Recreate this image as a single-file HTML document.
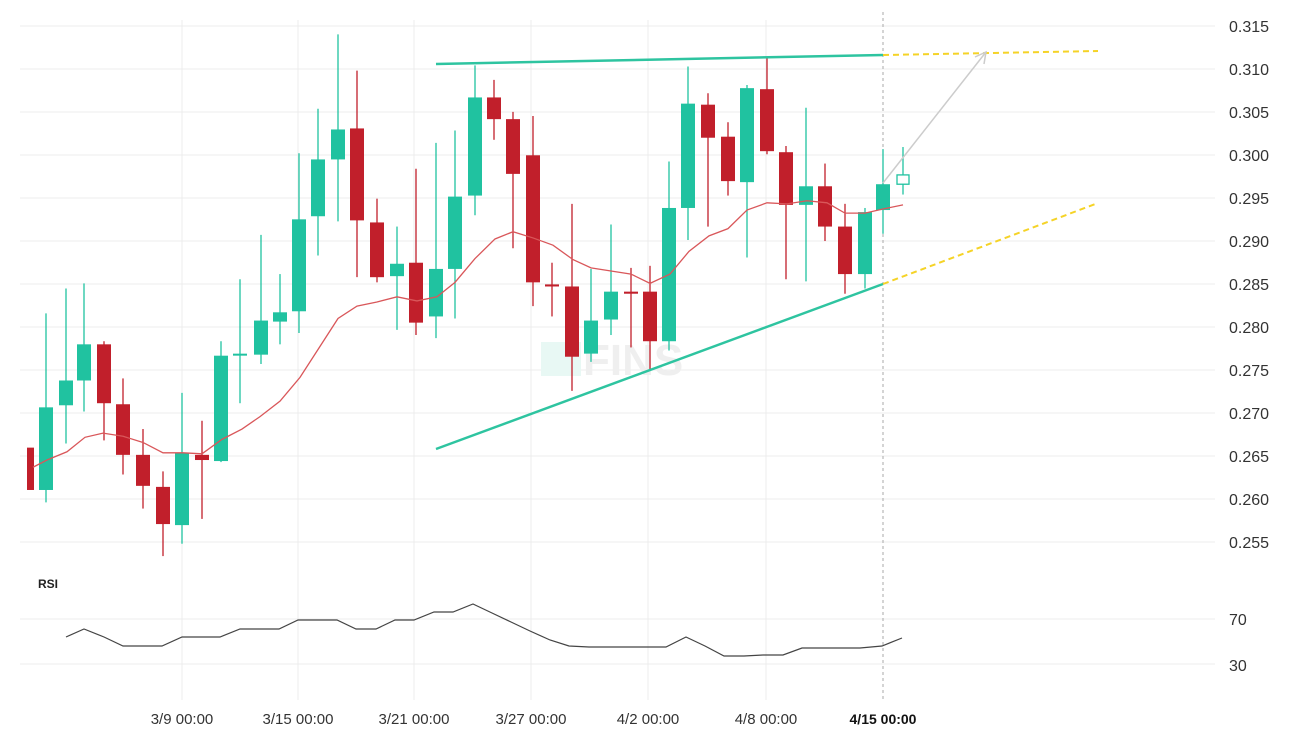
<!DOCTYPE html>
<html><head><meta charset="utf-8"><style>
html,body{margin:0;padding:0;background:#fff;}
svg{display:block;font-family:"Liberation Sans",sans-serif;}
</style></head><body>
<svg id="s" width="1310" height="752" xmlns="http://www.w3.org/2000/svg">
<g stroke="#ececec" stroke-width="1">
<line x1="20" y1="26" x2="1215" y2="26"/><line x1="20" y1="69" x2="1215" y2="69"/><line x1="20" y1="112" x2="1215" y2="112"/><line x1="20" y1="155" x2="1215" y2="155"/><line x1="20" y1="198" x2="1215" y2="198"/><line x1="20" y1="241" x2="1215" y2="241"/><line x1="20" y1="284" x2="1215" y2="284"/><line x1="20" y1="327" x2="1215" y2="327"/><line x1="20" y1="370" x2="1215" y2="370"/><line x1="20" y1="413" x2="1215" y2="413"/><line x1="20" y1="456" x2="1215" y2="456"/><line x1="20" y1="499" x2="1215" y2="499"/><line x1="20" y1="542" x2="1215" y2="542"/>
<line x1="20" y1="619" x2="1215" y2="619"/><line x1="20" y1="664" x2="1215" y2="664"/>
<line x1="182" y1="20" x2="182" y2="700"/><line x1="298" y1="20" x2="298" y2="700"/><line x1="414" y1="20" x2="414" y2="700"/><line x1="531" y1="20" x2="531" y2="700"/><line x1="648" y1="20" x2="648" y2="700"/><line x1="766" y1="20" x2="766" y2="700"/>
</g>
<line x1="883" y1="12" x2="883" y2="700" stroke="#aaa" stroke-dasharray="3,3"/>
<rect x="541" y="342" width="40" height="34" fill="#e8f8f4"/>
<text x="583" y="375" font-size="44" font-weight="bold" fill="#efefef">FINS</text>
<g id="c"></g>
<line x1="436" y1="64" x2="883" y2="55" stroke="#2ec4a0" stroke-width="2.5"/>
<line x1="436" y1="449" x2="883" y2="284" stroke="#2ec4a0" stroke-width="2.5"/>
<line x1="883" y1="55" x2="1098" y2="51" stroke="#f5d327" stroke-width="2" stroke-dasharray="6,4"/>
<line x1="883" y1="284" x2="1098" y2="203" stroke="#f5d327" stroke-width="2" stroke-dasharray="6,4"/>
<line x1="883" y1="183" x2="986" y2="52" stroke="#ccc" stroke-width="1.5"/>
<polyline points="975,57 986,52 984,64" fill="none" stroke="#ccc" stroke-width="1.5"/>
<polyline fill="none" stroke="#444" stroke-width="1.2" points="66,637 84,629 104,637 123,646 162,646 182,637 220,637 240,629 279,629 298,620 337,620 356,629 376,629 395,620 414,620 434,612 453,612 473,604 492,613 511,622 530,631 550,640 569,646 589,647 666,647 686,637 705,646 724,656 744,656 763,655 783,655 802,648 860,648 882,646 902,638"/>
<g font-size="16" fill="#333">
<text x="1229" y="32">0.315</text><text x="1229" y="75">0.310</text><text x="1229" y="118">0.305</text><text x="1229" y="161">0.300</text><text x="1229" y="204">0.295</text><text x="1229" y="247">0.290</text><text x="1229" y="290">0.285</text><text x="1229" y="333">0.280</text><text x="1229" y="376">0.275</text><text x="1229" y="419">0.270</text><text x="1229" y="462">0.265</text><text x="1229" y="505">0.260</text><text x="1229" y="548">0.255</text>
<text x="1229" y="625">70</text><text x="1229" y="671">30</text>
</g>
<text x="38" y="588" font-size="12" font-weight="bold" fill="#222">RSI</text>
<g font-size="15" fill="#333" text-anchor="middle">
<text x="182" y="724">3/9 00:00</text><text x="298" y="724">3/15 00:00</text><text x="414" y="724">3/21 00:00</text><text x="531" y="724">3/27 00:00</text><text x="648" y="724">4/2 00:00</text><text x="766" y="724">4/8 00:00</text>
<text x="883" y="724" font-weight="bold" fill="#111" font-size="14">4/15 00:00</text>
</g>
</svg>
<script>
var C=[[30,null,null,433,474,'r'],[46,303,486,394,474,'g'],[66,279,429,368,392,'g'],[84,274,398,333,368,'g'],[104,330,426,333,390,'r'],[123,366,459,391,440,'r'],[143,415,492,440,470,'r'],[163,456,538,471,507,'r'],[182,380,526,438,508,'g'],[202,407,502,440,445,'r'],[221,330,447,344,446,'g'],[240,270,390,343,344,'g'],[261,227,352,310,343,'g'],[280,265,333,302,311,'g'],[299,148,322,212,301,'g'],[318,105,247,154,209,'g'],[338,33,214,125,154,'g'],[357,68,268,124,213,'r'],[377,192,273,215,268,'r'],[397,219,319,255,267,'g'],[416,163,324,254,312,'r'],[436,138,327,260,306,'g'],[455,126,308,190,260,'g'],[475,63,208,94,189,'g'],[494,77,135,94,115,'r'],[513,108,240,115,168,'r'],[533,112,296,150,273,'r'],[552,254,306,275,277,'r'],[572,197,378,277,345,'r'],[591,260,350,310,342,'g'],[611,217,324,282,309,'g'],[631,259,336,282,284,'r'],[650,257,358,282,330,'r'],[669,156,339,201,330,'g'],[688,64,232,100,201,'g'],[708,90,219,101,133,'r'],[728,118,189,132,175,'r'],[747,82,249,85,176,'g'],[767,56,149,86,146,'r'],[786,141,270,147,198,'r'],[806,104,272,180,198,'g'],[825,158,233,180,219,'r'],[845,197,284,219,265,'r'],[865,201,279,205,265,'g'],[883,144,226,178,203,'g']];
function Y(v){return 21+(v-20)*1.033;}
var h='';
var ma=[[33,452],[47,445],[67,437],[85,423],[103,419],[123,422],[143,428],[163,438],[183,438],[202,439],[222,425],[242,415],[260,403],[280,388],[300,365],[318,338],[338,308],[357,296],[377,292],[397,287],[417,291],[437,287],[455,273],[475,250],[495,231],[513,224],[533,230],[553,237],[573,251],[591,259],[611,262],[631,265],[650,274],[670,265],[689,243],[709,228],[728,221],[747,203],[767,196],[787,197],[807,194],[827,196],[845,206],[865,206],[883,202],[903,198]];
C.forEach(function(c){var col=c[5]=='g'?'#20c2a0':'#c11f2b';
if(c[1]!=null)h+='<line x1="'+c[0]+'" y1="'+Y(c[1])+'" x2="'+c[0]+'" y2="'+Y(c[2])+'" stroke="'+col+'" stroke-width="1.3"/>';
var t=Y(c[3]),b=Y(c[4]);if(b-t<2){t-=1;b=t+2;}
var w=c[0]==30?7:14;var x=c[0]==30?27:c[0]-7;
h+='<rect x="'+x+'" y="'+t+'" width="'+w+'" height="'+(b-t)+'" fill="'+col+'"/>';});
h+='<polyline fill="none" stroke="#d9575a" stroke-width="1.3" points="'+ma.map(function(p){return p[0]+','+Y(p[1]);}).join(' ')+'"/>';
h+='<line x1="903" y1="'+Y(142)+'" x2="903" y2="'+Y(188)+'" stroke="#20c2a0" stroke-width="1.3"/><rect x="897" y="'+Y(169)+'" width="12" height="'+(Y(178)-Y(169))+'" fill="#fff" stroke="#20c2a0" stroke-width="1.3"/>';
document.getElementById('c').innerHTML=h;
</script>
</body></html>
